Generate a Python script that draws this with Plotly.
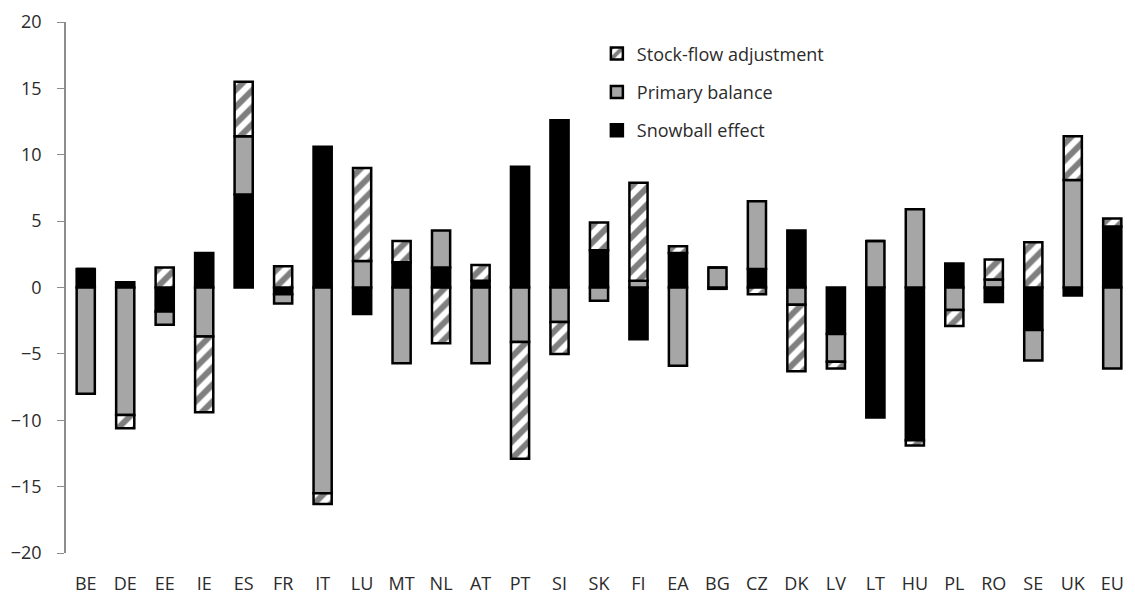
import plotly.graph_objects as go

# Contributions to the change in debt ratio, by country (pp of GDP)
countries = ["BE", "DE", "EE", "IE", "ES", "FR", "IT", "LU", "MT", "NL", "AT", "PT", "SI", "SK",
             "FI", "EA", "BG", "CZ", "DK", "LV", "LT", "HU", "PL", "RO", "SE", "UK", "EU"]

snowball = [1.4, 0.4, -1.8, 2.6, 7.0, -0.5, 10.6, -2.0, 1.9, 1.5, 0.5, 9.1, 12.6, 2.8,
            -3.9, 2.6, -0.1, 1.4, 4.3, -3.5, -9.8, -11.5, 1.8, -1.1, -3.2, -0.6, 4.6]

primary = [-8.0, -9.6, -1.0, -3.7, 4.4, -0.7, -15.5, 2.0, -5.7, 2.8, -5.7, -4.1, -2.6, -1.0,
           0.5, -5.9, 1.5, 5.1, -1.3, -2.1, 3.5, 5.9, -1.7, 0.6, -2.3, 8.1, -6.1]

stock_flow = [0.0, -1.0, 1.5, -5.7, 4.1, 1.6, -0.8, 7.0, 1.6, -4.2, 1.2, -8.8, -2.4, 2.1,
              7.4, 0.5, 0.0, -0.5, -5.0, -0.5, 0.0, -0.4, -1.2, 1.5, 3.4, 3.3, 0.6]

y_ticks = [-20, -15, -10, -5, 0, 5, 10, 15, 20]

AXIS_GREY = "#8c8c8c"
TEXT = "#2b2b2b"
FONT = "Open Sans"

fig = go.Figure()

fig.add_trace(go.Bar(
    x=countries, y=snowball, name="Snowball effect", legendgroup="sb", legendrank=3,
    marker=dict(color="#000000", line=dict(color="#000000", width=2.5)),
))
fig.add_trace(go.Bar(
    x=countries, y=primary, name="Primary balance", legendgroup="pb", legendrank=2,
    marker=dict(color="#a6a6a6", line=dict(color="#000000", width=2.5)),
))
fig.add_trace(go.Bar(
    x=countries, y=stock_flow, name="Stock-flow adjustment", legendgroup="sfa", legendrank=1,
    marker=dict(color="#ffffff", line=dict(color="#000000", width=2.5),
                pattern=dict(shape="/", fgcolor="#000000", bgcolor="#ffffff",
                             size=12, solidity=0.5)),
))

fig.update_layout(
    width=1135, height=596,
    margin=dict(l=66, r=3, t=22, b=43, autoexpand=False),
    paper_bgcolor="white", plot_bgcolor="white",
    barmode="relative", bargap=0.54,
    font=dict(family=FONT, size=18, color=TEXT),
    showlegend=True,
    legend=dict(
        x=0.498, y=0.975, xanchor="left", yanchor="top",
        traceorder="grouped", tracegroupgap=12,
        font=dict(family=FONT, size=18, color=TEXT),
        bgcolor="rgba(0,0,0,0)",
    ),
    xaxis=dict(
        type="category", categoryorder="array", categoryarray=countries,
        range=[-0.5, len(countries) - 0.5], automargin=False,
        showline=False, showgrid=False, zeroline=False, ticks="",
        ticklabelstandoff=18,
        tickfont=dict(family=FONT, size=18, color=TEXT),
    ),
    # zero line with separator ticks between categories
    xaxis2=dict(
        overlaying="x", anchor="free", position=0.5, side="bottom",
        range=[-0.5, len(countries) - 0.5],
        tickmode="array", tickvals=[i + 0.5 for i in range(len(countries))],
        showticklabels=False, ticks="outside", ticklen=8, tickwidth=1.3,
        tickcolor=AXIS_GREY, showline=True, linecolor=AXIS_GREY, linewidth=1.5,
        showgrid=False, zeroline=False, layer="below traces",
    ),
    yaxis=dict(
        range=[-20, 20], tickmode="array", tickvals=y_ticks, automargin=False,
        showline=True, linecolor=AXIS_GREY, linewidth=1.5,
        ticks="outside", ticklen=7, tickcolor=AXIS_GREY, tickwidth=1.3,
        showgrid=False, zeroline=False, ticklabelstandoff=12,
        tickfont=dict(family=FONT, size=18, color=TEXT),
    ),
)

fig.write_html("out.html")
